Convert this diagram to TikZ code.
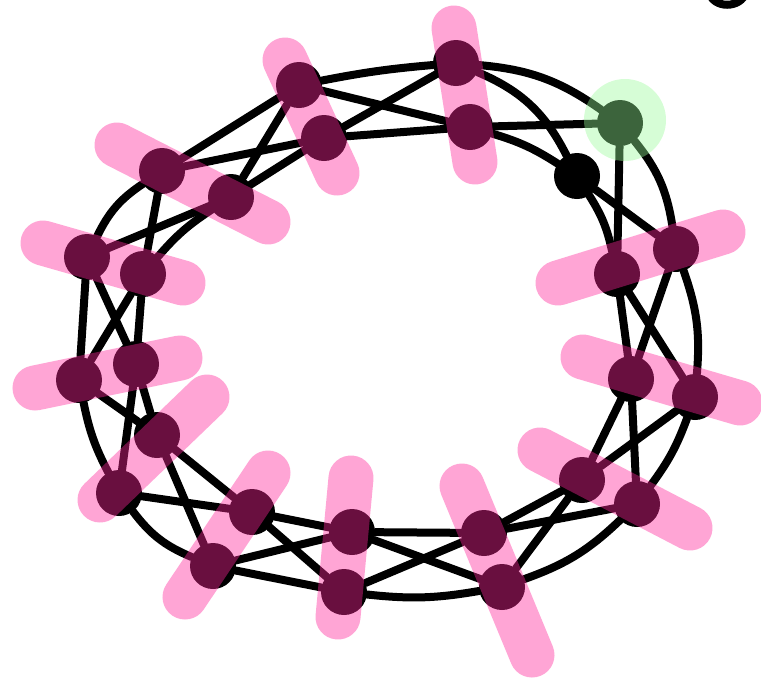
\documentclass[tikz,border=0pt]{standalone}
\pgfdeclarelayer{edgelayer}
\pgfdeclarelayer{overlayer}
\pgfsetlayers{edgelayer,main,overlayer}
\definecolor{hotpinkmark}{RGB}{255,37,153}
\definecolor{halogreen}{RGB}{152,251,152}
\begin{document}
\begin{tikzpicture}[x=1pt,y=-1pt,
  vtx/.style={circle,fill=black,minimum size=46pt,inner sep=0pt},
  edge/.style={line width=8pt,line cap=round,draw=black},
  pinkmark/.style={line width=45pt,line cap=round,draw=hotpinkmark,opacity=0.41},
  halo/.style={fill=halogreen,opacity=0.4}]
\useasboundingbox (0,0) rectangle (761,681);
\clip (0,0) rectangle (761,681);
% vertices
\node[vtx] (A1) at (456,63) {};
\node[vtx] (A2) at (470,127) {};
\node[vtx] (B1) at (299,85) {};
\node[vtx] (B2) at (324,138) {};
\node[vtx] (C1) at (162,171) {};
\node[vtx] (C2) at (231,197) {};
\node[vtx] (D1) at (87,257) {};
\node[vtx] (D2) at (143,274) {};
\node[vtx] (E1) at (79,380) {};
\node[vtx] (E2) at (136,364) {};
\node[vtx] (F1) at (157,435) {};
\node[vtx] (F2) at (119,493) {};
\node[vtx] (G1) at (252,512) {};
\node[vtx] (G2) at (213,566) {};
\node[vtx] (H1) at (352,532) {};
\node[vtx] (H2) at (344,592) {};
\node[vtx] (I1) at (484,533) {};
\node[vtx] (I2) at (502,587) {};
\node[vtx] (J1) at (582,480) {};
\node[vtx] (J2) at (637,504) {};
\node[vtx] (K1) at (631,379) {};
\node[vtx] (K2) at (695,397) {};
\node[vtx] (L1) at (617,274) {};
\node[vtx] (L2) at (676,249) {};
\node[vtx] (Gr) at (620,123) {};
\node[vtx] (Bk) at (577,176) {};
% edges
\begin{pgfonlayer}{edgelayer}
\draw[edge] (B1) to[bend left=3] (A1);
\draw[edge] (B1) -- (A2);
\draw[edge] (B2) -- (A1);
\draw[edge] (B2) -- (A2);
\draw[edge] (A1) to[bend left=15] (Gr);
\draw[edge] (A1) to[bend left=20] (Bk);
\draw[edge] (A2) -- (Gr);
\draw[edge] (A2) to[bend left=8] (Bk);
\draw[edge] (Gr) -- (L1);
\draw[edge] (Gr) to[bend left=15] (L2);
\draw[edge] (Bk) to[bend left=10] (L1);
\draw[edge] (Bk) -- (L2);
\draw[edge] (L1) -- (K1);
\draw[edge] (L1) -- (K2);
\draw[edge] (L2) -- (K1);
\draw[edge] (L2) to[bend left=12] (K2);
\draw[edge] (K1) -- (J1);
\draw[edge] (K1) -- (J2);
\draw[edge] (K2) -- (J1);
\draw[edge] (K2) to[bend left=8] (J2);
\draw[edge] (J1) -- (I1);
\draw[edge] (J1) -- (I2);
\draw[edge] (J2) -- (I1);
\draw[edge] (I2) to[bend right=12] (J2);
\draw[edge] (I1) -- (H1);
\draw[edge] (I1) -- (H2);
\draw[edge] (I2) -- (H1);
\draw[edge] (H2) to[bend right=8] (I2);
\draw[edge] (H1) -- (G1);
\draw[edge] (H1) -- (G2);
\draw[edge] (H2) -- (G1);
\draw[edge] (H2) -- (G2);
\draw[edge] (G1) -- (F1);
\draw[edge] (G1) -- (F2);
\draw[edge] (G2) -- (F1);
\draw[edge] (F2) to[bend right=15] (G2);
\draw[edge] (F1) -- (E1);
\draw[edge] (F1) -- (E2);
\draw[edge] (E1) to[bend right=8] (F2);
\draw[edge] (F2) -- (E2);
\draw[edge] (E1) -- (D1);
\draw[edge] (E1) -- (D2);
\draw[edge] (E2) -- (D1);
\draw[edge] (E2) -- (D2);
\draw[edge] (D1) to[bend left=15] (C1);
\draw[edge] (D1) -- (C2);
\draw[edge] (D2) -- (C1);
\draw[edge] (D2) to[bend left=8] (C2);
\draw[edge] (C1) -- (B1);
\draw[edge] (C1) -- (B2);
\draw[edge] (C2) -- (B1);
\draw[edge] (C2) -- (B2);
\end{pgfonlayer}
% highlighted pairs and halo
\begin{pgfonlayer}{overlayer}
\draw[pinkmark] (454,28) -- (475,162);
\draw[pinkmark] (285,60) -- (337,173);
\draw[pinkmark] (117,145) -- (268,222);
\draw[pinkmark] (43,243) -- (183,283);
\draw[pinkmark] (35,388) -- (180,358);
\draw[pinkmark] (207,397) -- (100,500);
\draw[pinkmark] (268,473) -- (185,597);
\draw[pinkmark] (351,478) -- (338,617);
\draw[pinkmark] (462,486) -- (532,655);
\draw[pinkmark] (540,450) -- (690,528);
\draw[pinkmark] (583,357) -- (740,403);
\draw[pinkmark] (558,283) -- (723,232);
\fill[halo] (625,120) circle[radius=41pt];
\end{pgfonlayer}
% clipped fragment at the top right
\draw[line width=8pt,line cap=round] (709,-8) .. controls (713,9) and (741,9) .. (746,-8);
\end{tikzpicture}
\end{document}
